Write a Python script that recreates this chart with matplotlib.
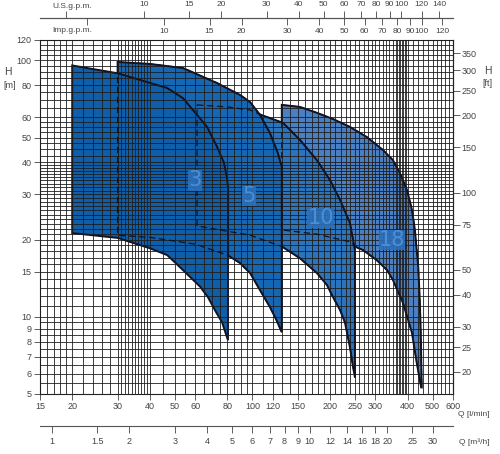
import numpy as np
import matplotlib.pyplot as plt
from matplotlib.ticker import NullLocator

plt.rcParams['font.family'] = ['Liberation Sans', 'DejaVu Sans']

# pump fields, Q in l/min, H in m  (upper curve, lower curve)
q3_top = [20, 30, 36.7, 46.7, 53.8, 58.8, 66.7, 73, 77.6, 79.6, 80.4]
h3_top = [95.5, 89, 83.8, 78, 71.2, 64, 55, 45.9, 39.8, 35.1, 32]
q3_bot = [20, 30, 40, 46.7, 52.4, 57.3, 62.7, 67.3, 71.6, 76.3, 80.4]
h3_bot = [21.2, 20.3, 18.5, 17.4, 15.6, 14.3, 13.1, 11.9, 10.6, 9.5, 8.1]

q5_top = [30, 40, 53.8, 73, 89.5, 98, 107, 117, 125.5, 130]
h5_top = [98.5, 96.8, 93.3, 81.5, 73.3, 68.7, 61.3, 52, 43.5, 38.4]
q5_bot = [30, 40, 60, 80, 89.5, 98, 107, 117, 124, 130]
h5_bot = [20.8, 20.4, 19.2, 17.4, 16.2, 14.8, 12.7, 10.9, 9.7, 8.7]

q10_top = [61, 80, 98, 107, 131.6, 153, 178, 200, 219, 239, 250]
h10_top = [67, 65.8, 64, 61.5, 57, 48.9, 40.8, 34.1, 28.5, 23.2, 18.2]
q10_bot = [61, 98, 130, 153, 178, 194.6, 205.7, 219, 228.6, 239, 245.5, 250]
h10_bot = [22.6, 20.8, 18.8, 16.9, 14.8, 13.3, 11.9, 10.6, 9.5, 7.6, 6.4, 5.8]

q18_top = [130, 153, 178, 205.7, 239, 278, 321, 351, 373, 398, 416, 427, 434, 440, 446, 450, 454]
h18_top = [67, 65.8, 62.4, 59, 55, 50.2, 44.7, 40.8, 36.4, 31.2, 26.1, 21.8, 18.2, 15.6, 11.6, 8.65, 5.3]
q18_bot = [130, 178, 239, 255, 268.7, 304, 333, 351, 384, 416, 432, 447, 452]
h18_bot = [21.8, 21.0, 19.6, 18.6, 18.2, 16.6, 15.2, 13.9, 11.3, 8.65, 6.8, 5.6, 5.3]

pump_names = ["3", "5", "10", "18"]

# axis ticks
q_ticks = [15, 20, 30, 40, 50, 60, 80, 100, 120, 150, 200, 250, 300, 400, 500, 600]
h_ticks = [5, 6, 7, 8, 9, 10, 15, 20, 30, 40, 50, 60, 80, 100, 120]
ft_ticks = [20, 25, 30, 40, 50, 75, 100, 150, 200, 250, 300, 350]
m3h_ticks = [1, 1.5, 2, 3, 4, 5, 6, 7, 8, 9, 10, 12, 14, 16, 18, 20, 25, 30]
us_ticks = [5, 10, 15, 20, 30, 40, 50, 60, 70, 80, 90, 100, 120, 140]
imp_ticks = [5, 10, 15, 20, 30, 40, 50, 60, 70, 80, 90, 100, 120]

# chart paper grid
grid_q = (list(range(15, 20)) + list(range(20, 30, 2)) + list(range(30, 40))
          + list(range(40, 100, 5)) + list(range(100, 360, 10))
          + list(range(360, 400, 5)) + list(range(400, 601, 20)))
grid_h = (list(np.arange(5, 10, 0.5)) + list(range(10, 40))
          + list(np.arange(40, 60, 2.5)) + list(range(60, 121, 5)))

txt = '#444444'
fs = 6.5
fig = plt.figure(figsize=(5, 4.54), dpi=100)
ax = fig.add_axes([0.08, 0.1322, 0.826, 0.7797])
ax.set_xscale('log')
ax.set_yscale('log')
ax.set_xlim(15, 600)
ax.set_ylim(5, 120)

# fields, biggest pump first so the smaller ones sit on top
fields = [(q18_top, h18_top, q18_bot, h18_bot, '#4a80c3'),
          (q10_top, h10_top, q10_bot, h10_bot, '#2a73bd'),
          (q5_top, h5_top, q5_bot, h5_bot, '#1567b3'),
          (q3_top, h3_top, q3_bot, h3_bot, '#0f5ea9')]
for i, (qt, ht, qb, hb, col) in enumerate(fields):
    qq = np.concatenate([qt, qb[::-1]])
    hh = np.concatenate([ht, hb[::-1]])
    ax.fill(qq, hh, fc=col, ec='#111122', lw=1.4, zorder=1 + i)
    if i < 3:
        # hidden edges shown dashed
        ax.plot(np.append(qq, qq[0]), np.append(hh, hh[0]), color='#111122',
                lw=0.9, ls=(0, (5, 3)), zorder=7)

ax.vlines(grid_q, 5, 120, color='#1e1e1e', lw=0.6, zorder=6)
ax.hlines(grid_h, 15, 600, color='#1e1e1e', lw=0.6, zorder=6)

label_pos = [(60, 34), (97, 29.6), (184, 24.3), (348, 19.9)]
for name, (lq, lh) in zip(pump_names, label_pos):
    ax.text(lq, lh, name, fontsize=15, color='#4a8fd6', ha='center', va='center',
            family='DejaVu Sans', zorder=8,
            bbox=dict(fc='#2c6fb9', ec='none', pad=0.15, alpha=0.9))

for s in ax.spines.values():
    s.set_color('#222222')
    s.set_linewidth(0.8)

ax.set_xticks(q_ticks, [str(t) for t in q_ticks])
ax.set_yticks(h_ticks, [str(t) for t in h_ticks])
ax.xaxis.set_minor_locator(NullLocator())
ax.yaxis.set_minor_locator(NullLocator())
ax.tick_params(length=4, width=0.6, labelsize=fs, colors=txt, pad=2)

# feet on the right
ft = ax.secondary_yaxis('right', functions=(lambda h: h * 3.2808, lambda f: f / 3.2808))
ft.set_ticks(ft_ticks, [str(t) for t in ft_ticks])
ft.yaxis.set_minor_locator(NullLocator())
ft.tick_params(length=5, width=0.6, labelsize=fs, colors=txt, pad=1)

# m3/h below
m3 = ax.secondary_xaxis(-0.09, functions=(lambda q: q * 0.06, lambda v: v / 0.06))
m3.set_ticks(m3h_ticks, [str(t) for t in m3h_ticks])
m3.xaxis.set_minor_locator(NullLocator())
m3.tick_params(length=5, width=0.6, labelsize=fs, colors=txt, pad=3)
m3.spines['bottom'].set_color('#555555')

# gallons per minute on top
us = ax.secondary_xaxis(1.062, functions=(lambda q: q / 3.785, lambda g: g * 3.785))
us.set_ticks(us_ticks, ['' if t == 5 else str(t) for t in us_ticks])
us.xaxis.set_minor_locator(NullLocator())
us.tick_params(length=5, width=0.6, labelsize=6, colors=txt, pad=2)
us.spines['top'].set_color('#555555')

imp = ax.secondary_xaxis(1.062, functions=(lambda q: q / 4.546, lambda g: g * 4.546))
imp.set_alignment('bottom')
imp.set_ticks(imp_ticks, ['' if t == 5 else str(t) for t in imp_ticks])
imp.xaxis.set_minor_locator(NullLocator())
imp.tick_params(length=5, width=0.6, labelsize=6, colors=txt, pad=2)
imp.spines['bottom'].set_color('#555555')

def px(x, y):
    return x / 500, 1 - y / 454

fig.text(*px(72, 6), 'U.S.g.p.m.', fontsize=6, color=txt, ha='center', va='center')
fig.text(*px(72, 31), 'Imp.g.p.m.', fontsize=6, color=txt, ha='center', va='center')
fig.text(*px(8, 72), 'H', fontsize=7.5, color=txt, ha='center', va='center')
fig.text(*px(10, 86), '[m]', fontsize=fs, color=txt, ha='center', va='center')
fig.text(*px(488, 71), 'H', fontsize=7.5, color=txt, ha='center', va='center')
fig.text(*px(487, 84), '[ft]', fontsize=fs, color=txt, ha='center', va='center')
fig.text(*px(474, 415), 'Q [l/min]', fontsize=6, color=txt, ha='center', va='center')
fig.text(*px(474, 442), 'Q [m³/h]', fontsize=6, color=txt, ha='center', va='center')

fig.savefig('out.png', dpi=100)
